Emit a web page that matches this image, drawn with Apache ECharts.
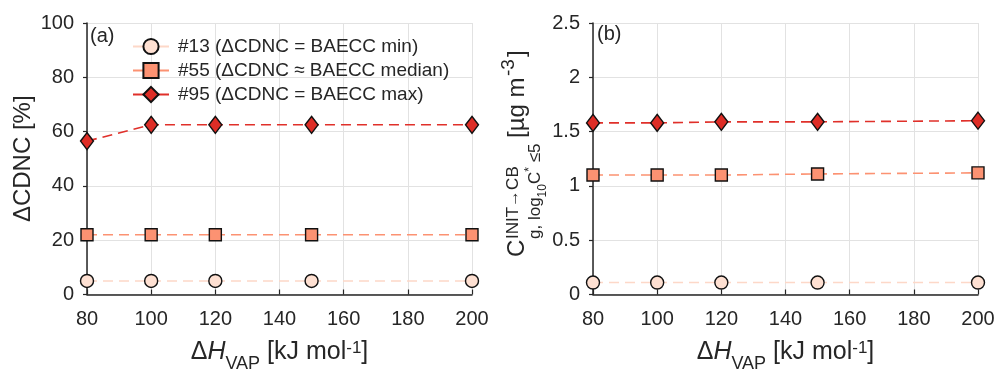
<!DOCTYPE html>
<html>
<head>
<meta charset="utf-8">
<script src="https://cdn.jsdelivr.net/npm/echarts@6/dist/echarts.min.js"></script>
<style>
  html, body { margin: 0; padding: 0; background: #fff; }
  #chart { width: 998px; height: 370px; }
</style>
</head>
<body>
<div id="chart"></div>
<script>
// data
const hvap = [80, 100, 120, 150, 200]
const names = ['#13 (ΔCDNC = BAECC min)', '#55 (ΔCDNC ≈ BAECC median)', '#95 (ΔCDNC = BAECC max)']
const cdnc13 = [5, 5, 5, 5, 5]
const cdnc55 = [22, 22, 22, 22, 22]
const cdnc95 = [56.5, 62.5, 62.5, 62.5, 62.5]
const conc13 = [0.11, 0.11, 0.11, 0.11, 0.11]
const conc55 = [1.10, 1.10, 1.10, 1.11, 1.12]
const conc95 = [1.58, 1.58, 1.59, 1.59, 1.60]

const FONT = '"Liberation Sans", Arial, Helvetica, sans-serif'
const TXT = '#262626'

const looks = [
  { symbol: 'circle', symbolSize: 13, fill: '#fee0d2', line: '#fdd8c8' },
  { symbol: 'rect', symbolSize: 12, fill: '#fc9272', line: '#fc9272' },
  { symbol: 'diamond', symbolSize: [13, 17], fill: '#de2d26', line: '#e0302a' },
]

const pair = (a, b) => a.map((v, i) => [a[i], b[i]])

const xName = {
  name: '{m|Δ}{i|H}{sub|VAP}{m| [kJ mol}{sup|-1}{m|]}',
  nameLocation: 'middle',
  nameGap: 45,
  nameTextStyle: {
    rich: {
      m: { fontSize: 25, lineHeight: 30, verticalAlign: 'top', fontFamily: FONT, color: TXT },
      i: { fontSize: 25, lineHeight: 30, verticalAlign: 'top', fontStyle: 'italic', fontFamily: FONT, color: TXT },
      sub: { fontSize: 18, lineHeight: 18, padding: [16, 0, 0, 0], verticalAlign: 'top', fontFamily: FONT, color: TXT },
      sup: { fontSize: 17, lineHeight: 17, verticalAlign: 'top', fontFamily: FONT, color: TXT },
    },
  },
}

const xAxis = (gridIndex) => ({
  gridIndex,
  type: 'value',
  min: 80,
  max: 200,
  interval: 20,
  axisLine: { onZero: false, lineStyle: { color: TXT, width: 1.5 } },
  axisTick: { inside: true, length: 5, lineStyle: { color: TXT, width: 1.2 } },
  axisLabel: { fontSize: 20, color: TXT, fontFamily: FONT, margin: 15 },
  splitLine: { show: true, lineStyle: { color: '#e2e2e2', width: 1 } },
  ...xName,
})

const yAxis = (gridIndex, max, interval, name) => ({
  gridIndex,
  type: 'value',
  min: 0,
  max,
  interval,
  name,
  nameLocation: 'middle',
  nameGap: 52,
  nameTextStyle: { fontSize: 24, color: TXT, fontFamily: FONT },
  axisLine: { show: true, lineStyle: { color: TXT, width: 1.5 } },
  axisTick: { show: true, length: 4, lineStyle: { color: TXT, width: 1.2 } },
  axisLabel: { fontSize: 20, color: TXT, fontFamily: FONT, margin: 13 },
  splitLine: { show: true, lineStyle: { color: '#e2e2e2', width: 1 } },
})

const mkSeries = (k, data, idx) => ({
  name: names[k],
  type: 'line',
  xAxisIndex: idx,
  yAxisIndex: idx,
  data: pair(hvap, data),
  symbol: looks[k].symbol,
  symbolSize: looks[k].symbolSize,
  showSymbol: true,
  itemStyle: { color: looks[k].fill, borderColor: '#111', borderWidth: 1.4 },
  lineStyle: { color: looks[k].line, width: 1.6, type: [10, 6] },
  emphasis: { disabled: true },
  z: 2 + k,
})

// rotated label of panel (b): pieces placed along the text direction
const piece = (text, u, base, size) => ({
  type: 'text',
  x: u,
  y: base - 0.31 * size,
  style: { text, fontSize: size, fontFamily: FONT, fill: TXT, align: 'left', verticalAlign: 'middle' },
})

const option = {
  animation: false,
  backgroundColor: '#fff',
  grid: [
    { left: 87, right: 526, top: 23, bottom: 75.5, outerBoundsMode: 'none' },
    { left: 593, right: 20, top: 23, bottom: 75.5, outerBoundsMode: 'none' },
  ],
  xAxis: [xAxis(0), xAxis(1)],
  yAxis: [yAxis(0, 100, 20, 'ΔCDNC [%]'), yAxis(1, 2.5, 0.5, '')],
  legend: {
    data: names,
    orient: 'vertical',
    left: 132,
    top: 37,
    padding: 0,
    itemWidth: 36,
    itemHeight: 19,
    itemGap: 5,
    lineStyle: { type: 'solid', width: 2 },
    textStyle: { fontSize: 19, color: TXT, fontFamily: FONT, padding: [0, 0, 0, 4] },
  },
  graphic: [
    { type: 'text', left: 90, top: 26, style: { text: '(a)', fontSize: 20, fill: TXT, fontFamily: FONT } },
    { type: 'text', left: 597, top: 24, style: { text: '(b)', fontSize: 20, fill: TXT, fontFamily: FONT } },
    {
      type: 'group',
      x: 525,
      y: 257,
      rotation: Math.PI / 2,
      children: [
        piece('C', 0, 0, 24),
        piece('INIT→CB', 18, -6, 17),
        piece('g, log', 18, 16, 17),
        piece('10', 59.6, 21, 12),
        piece('C', 73, 16, 17),
        piece('*', 85.3, 8, 12),
        piece(' ≤5', 90, 16, 17),
        piece('[µg m', 119, 0, 24),
        piece('-3', 181, -10, 19),
        piece(']', 200, 0, 24),
      ],
    },
  ],
  series: [
    mkSeries(0, cdnc13, 0),
    mkSeries(1, cdnc55, 0),
    mkSeries(2, cdnc95, 0),
    mkSeries(0, conc13, 1),
    mkSeries(1, conc55, 1),
    mkSeries(2, conc95, 1),
  ],
}

const myChart = echarts.init(document.getElementById('chart'), null, { renderer: 'canvas' })
myChart.setOption(option)
</script>
</body>
</html>
